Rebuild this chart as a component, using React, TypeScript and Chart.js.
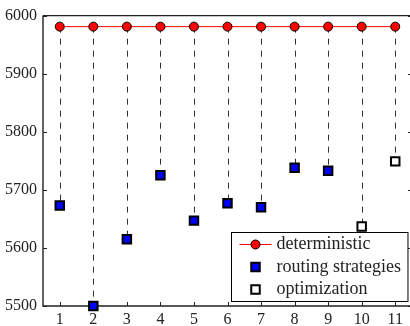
import React, { useEffect, useRef } from 'react';
import { Chart, registerables } from 'chart.js';

Chart.register(...registerables);

const categories = ['1', '2', '3', '4', '5', '6', '7', '8', '9', '10', '11'];
const deterministic = [5981, 5981, 5981, 5981, 5981, 5981, 5981, 5981, 5981, 5981, 5981];
const routing = [5673, 5500, 5615, 5725, 5647, 5677, 5670, 5738, 5733, null, null];
const optimization = [null, null, null, null, null, null, null, null, null, 5637, 5749];
const yTicks = [5500, 5600, 5700, 5800, 5900, 6000];
const seriesNames = ['deterministic', 'routing strategies', 'optimization'];

const FONT = "'Liberation Serif', 'Times New Roman', serif";
const INK = '#222';

const decor = {
  id: 'decor',
  beforeDatasetsDraw(chart: any) {
    const { ctx, chartArea: a, scales } = chart;
    const x = scales.x;
    const y = scales.y;
    // dashed stems
    ctx.save();
    ctx.setLineDash([6, 6]);
    ctx.strokeStyle = '#333';
    ctx.lineWidth = 1;
    categories.forEach((_c, i) => {
      const low = routing[i] ?? optimization[i];
      if (low == null) return;
      const px = Math.round(x.getPixelForValue(i)) + 0.5;
      ctx.beginPath();
      ctx.moveTo(px, y.getPixelForValue(deterministic[i]));
      ctx.lineTo(px, y.getPixelForValue(low));
      ctx.stroke();
    });
    ctx.restore();
    // frame
    ctx.save();
    ctx.strokeStyle = INK;
    ctx.lineWidth = 1.4;
    ctx.beginPath();
    ctx.moveTo(a.left, a.top);
    ctx.lineTo(a.right, a.top);
    ctx.moveTo(a.left, a.top);
    ctx.lineTo(a.left, a.bottom);
    ctx.lineTo(a.right, a.bottom);
    ctx.lineTo(a.right, a.top);
    ctx.stroke();
    ctx.lineWidth = 1;
    ctx.beginPath();
    yTicks.forEach((v) => {
      const py = Math.round(y.getPixelForValue(v)) + 0.5;
      ctx.moveTo(a.left, py);
      ctx.lineTo(a.left + 4, py);
      ctx.moveTo(a.right, py);
      ctx.lineTo(a.right - 4, py);
    });
    categories.forEach((_c, i) => {
      const px = Math.round(x.getPixelForValue(i)) + 0.5;
      ctx.moveTo(px, a.bottom);
      ctx.lineTo(px, a.bottom - 4);
    });
    ctx.stroke();
    ctx.restore();
  },
  afterDraw(chart: any) {
    const { ctx, chartArea: a } = chart;
    ctx.save();
    ctx.font = `18px ${FONT}`;
    const maxW = Math.max(...seriesNames.map((s) => ctx.measureText(s).width));
    const w = 45 + maxW + 7;
    const h = 69;
    const bx = Math.round(a.right - 5 - w) + 0.5;
    const by = Math.round(a.bottom - 5 - h) + 0.5;
    ctx.fillStyle = '#fff';
    ctx.fillRect(bx, by, w, h);
    ctx.strokeStyle = '#000';
    ctx.lineWidth = 1;
    ctx.strokeRect(bx, by, w, h);
    const sx = bx + 24;
    const rows = [by + 12, by + 34.5, by + 57];
    // deterministic
    ctx.strokeStyle = '#ff0000';
    ctx.beginPath();
    ctx.moveTo(sx - 16, rows[0]);
    ctx.lineTo(sx + 16, rows[0]);
    ctx.stroke();
    ctx.beginPath();
    ctx.arc(sx, rows[0], 4.5, 0, Math.PI * 2);
    ctx.fillStyle = '#ff0000';
    ctx.fill();
    ctx.strokeStyle = '#000';
    ctx.stroke();
    // squares
    const side = 8.5;
    [['#0000ff', rows[1]], ['#ffffff', rows[2]]].forEach(([col, ry]: any) => {
      ctx.fillStyle = col;
      ctx.fillRect(sx - side / 2, ry - side / 2, side, side);
      ctx.lineWidth = 2;
      ctx.strokeStyle = '#000';
      ctx.strokeRect(sx - side / 2, ry - side / 2, side, side);
    });
    ctx.fillStyle = INK;
    ctx.textAlign = 'left';
    ctx.textBaseline = 'middle';
    seriesNames.forEach((s, i) => ctx.fillText(s, bx + 45, rows[i]));
    ctx.restore();
  },
};

export default function App() {
  const ref = useRef<HTMLCanvasElement>(null);
  useEffect(() => {
    if (!ref.current) return;
    const chart = new Chart(ref.current, {
      type: 'line',
      data: {
        labels: categories,
        datasets: [
          {
            label: seriesNames[0],
            data: deterministic,
            borderColor: '#ff0000',
            borderWidth: 1,
            pointBackgroundColor: '#ff0000',
            pointBorderColor: '#000',
            pointBorderWidth: 1,
            pointRadius: 4.5,
            clip: false as any,
          },
          {
            label: seriesNames[1],
            data: routing as any,
            showLine: false,
            pointStyle: 'rect',
            pointBackgroundColor: '#0000ff',
            pointBorderColor: '#000',
            pointBorderWidth: 2,
            pointRadius: 6,
            clip: false as any,
          },
          {
            label: seriesNames[2],
            data: optimization as any,
            showLine: false,
            pointStyle: 'rect',
            pointBackgroundColor: '#ffffff',
            pointBorderColor: '#000',
            pointBorderWidth: 2,
            pointRadius: 6,
            clip: false as any,
          },
        ],
      },
      options: {
        responsive: false,
        animation: false,
        layout: { padding: { top: 13, right: 7, left: 0, bottom: 0 } },
        plugins: { legend: { display: false }, tooltip: { enabled: false } },
        scales: {
          x: {
            type: 'category',
            offset: true,
            grid: { display: false, drawTicks: false, offset: false },
            border: { display: false },
            ticks: { padding: 4, color: INK, font: { family: FONT, size: 16 }, maxRotation: 0 },
            afterFit: (s: any) => { s.height = 20; },
          },
          y: {
            min: 5500,
            max: 6000,
            grid: { display: false, drawTicks: false },
            border: { display: false },
            ticks: {
              padding: 6,
              color: INK,
              font: { family: FONT, size: 16 },
              callback: (v: any) => String(v),
            },
            afterBuildTicks: (s: any) => { s.ticks = yTicks.map((v) => ({ value: v })); },
            afterFit: (s: any) => { s.width = 43; },
          },
        },
      },
      plugins: [decor],
    });
    return () => chart.destroy();
  }, []);
  return (
    <div style={{ position: 'fixed', left: 0, top: 0, width: 410, height: 326, overflow: 'hidden', background: '#fff' }}>
      <canvas ref={ref} width={420} height={326} style={{ display: 'block' }} />
    </div>
  );
}
